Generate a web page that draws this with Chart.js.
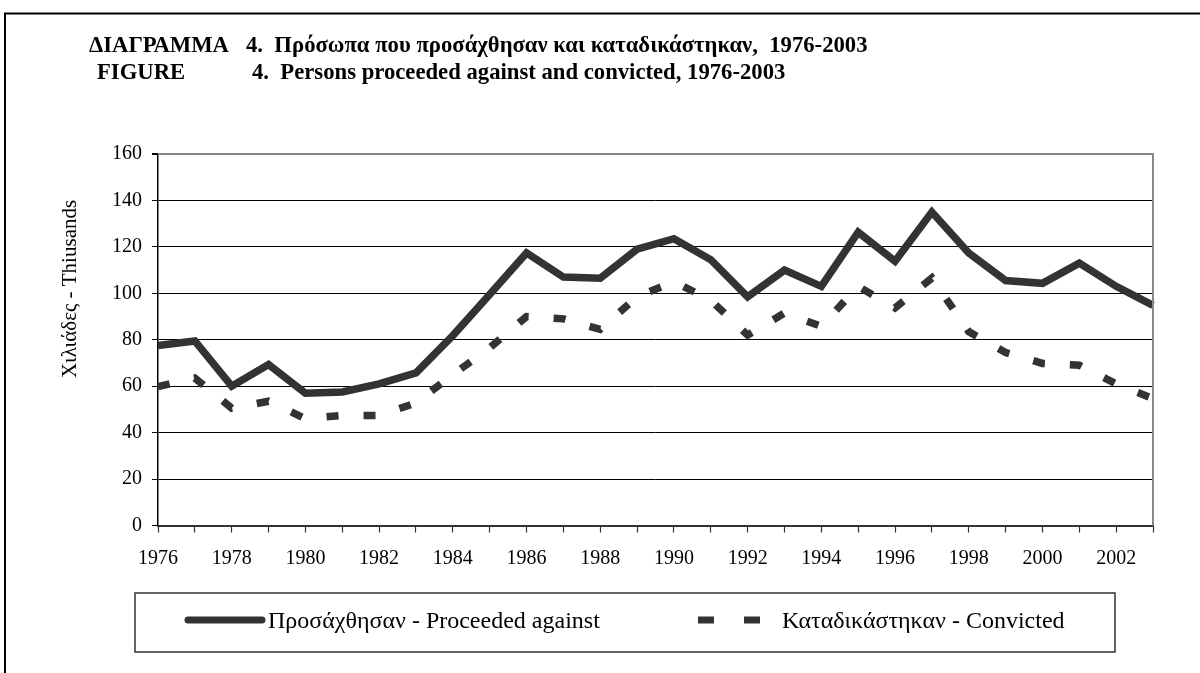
<!DOCTYPE html>
<html>
<head>
<meta charset="utf-8">
<script src="https://cdn.jsdelivr.net/npm/chart.js@4"></script>
<style>
  html, body { margin: 0; padding: 0; background: #fff; }
  canvas { display: block; }
</style>
</head>
<body>
<canvas id="c" width="1200" height="673"></canvas>
<script>
// ---- Data ----
const years = ["1976","1977","1978","1979","1980","1981","1982","1983","1984","1985",
               "1986","1987","1988","1989","1990","1991","1992","1993","1994","1995",
               "1996","1997","1998","1999","2000","2001","2002","2003"];
const proceeded = [77.5, 79.5, 60, 69.3, 57, 57.5, 61, 65.7, 81.8, 99.5,
                   117.4, 107, 106.5, 119, 123.5, 114.5, 98.5, 110, 103, 126.3,
                   113.8, 135, 117.4, 105.5, 104.3, 113, 103, 94.8];
const convicted = [59.8, 63.5, 50.5, 53.5, 46, 47.4, 47.4, 52.8, 65, 76.5,
                   90, 89, 84.5, 98.5, 105, 97, 82, 91.5, 85.8, 103,
                   93.7, 106.6, 83.5, 74.5, 69.8, 69, 61, 54.6];
const seriesLabels = ["Προσάχθησαν - Proceeded against", "Καταδικάστηκαν - Convicted"];
const titleGr = ["ΔΙΑΓΡΑΜΜΑ", "4.  Πρόσωπα που προσάχθησαν και καταδικάστηκαν,  1976-2003"];
const titleEn = ["FIGURE", "4.  Persons proceeded against and convicted, 1976-2003"];
const yTitle = "Χιλιάδες - Thiusands";

const SERIF = '"Liberation Serif", "DejaVu Serif", serif';
const INK = '#333333';

const decorPlugin = {
  id: 'decor',
  beforeDraw(chart) {
    const ctx = chart.ctx;
    ctx.save();
    ctx.fillStyle = '#fff';
    ctx.fillRect(0, 0, chart.width, chart.height);
    ctx.restore();
  },
  afterDraw(chart) {
    const ctx = chart.ctx;
    const a = chart.chartArea;
    ctx.save();
    // plot area border (top/right gray)
    ctx.strokeStyle = '#888';
    ctx.lineWidth = 2;
    ctx.beginPath();
    ctx.moveTo(a.left, a.top);
    ctx.lineTo(a.right, a.top);
    ctx.lineTo(a.right, a.bottom);
    ctx.stroke();

    // outer frame
    ctx.strokeStyle = '#000';
    ctx.lineWidth = 2;
    ctx.beginPath();
    ctx.moveTo(5, chart.height);
    ctx.lineTo(5, 13.5);
    ctx.lineTo(chart.width, 13.5);
    ctx.stroke();

    // titles
    ctx.fillStyle = '#000';
    ctx.font = 'bold 22.7px ' + SERIF;
    ctx.textBaseline = 'alphabetic';
    ctx.textAlign = 'left';
    ctx.fillText(titleGr[0], 89, 52);
    ctx.fillText(titleGr[1], 246, 52);
    ctx.fillText(titleEn[0], 97, 79);
    ctx.fillText(titleEn[1], 252, 79);

    // y axis title
    ctx.save();
    ctx.translate(70, 289);
    ctx.rotate(-Math.PI / 2);
    ctx.font = '21px ' + SERIF;
    ctx.textAlign = 'center';
    ctx.textBaseline = 'middle';
    ctx.fillText(yTitle, 0, 0);
    ctx.restore();

    // legend
    ctx.strokeStyle = '#333';
    ctx.lineWidth = 1.5;
    ctx.strokeRect(135, 593, 980, 59);
    ctx.strokeStyle = INK;
    ctx.lineWidth = 7;
    ctx.lineCap = 'round';
    ctx.beginPath();
    ctx.moveTo(188, 620);
    ctx.lineTo(262, 620);
    ctx.stroke();
    ctx.fillStyle = INK;
    ctx.fillRect(698, 616.5, 16, 7);
    ctx.fillRect(744, 616.5, 16, 7);
    ctx.fillStyle = '#000';
    ctx.font = '24px ' + SERIF;
    ctx.textAlign = 'left';
    ctx.textBaseline = 'middle';
    ctx.fillText(chart.data.datasets[0].label, 268, 622);
    ctx.fillText(chart.data.datasets[1].label, 782, 622);
    ctx.restore();
  }
};

new Chart(document.getElementById('c'), {
  type: 'line',
  data: {
    labels: years,
    datasets: [
      {
        label: seriesLabels[0],
        data: proceeded,
        borderColor: INK,
        borderWidth: 7.5,
        pointRadius: 0,
        tension: 0,
        borderJoinStyle: 'miter',
        borderCapStyle: 'butt',
        fill: false
      },
      {
        label: seriesLabels[1],
        data: convicted,
        borderColor: INK,
        borderWidth: 7.5,
        borderDash: [12, 25],
        pointRadius: 0,
        tension: 0,
        borderJoinStyle: 'miter',
        borderCapStyle: 'butt',
        fill: false
      }
    ]
  },
  options: {
    responsive: false,
    animation: false,
    devicePixelRatio: 1,
    layout: { padding: { top: 154, right: 47, left: 0, bottom: 0 } },
    plugins: {
      legend: { display: false },
      title: { display: false },
      tooltip: { enabled: false }
    },
    scales: {
      x: {
        type: 'category',
        offset: false,
        afterFit(scale) { scale.height = 673 - 525.5; },
        grid: {
          drawOnChartArea: false,
          drawTicks: true,
          tickLength: 7,
          tickColor: '#333',
          tickWidth: 1.2
        },
        border: { color: '#333', width: 2 },
        ticks: {
          autoSkip: false,
          maxRotation: 0,
          minRotation: 0,
          padding: 14,
          color: '#000',
          font: { family: SERIF, size: 20 },
          callback(value, index) { return index % 2 === 0 ? this.getLabelForValue(value) : ''; }
        }
      },
      y: {
        min: 0,
        max: 160,
        afterFit(scale) { scale.width = 158; },
        grid: {
          color(ctx) { return ctx.tick && ctx.tick.value === 160 ? '#888' : '#000'; },
          lineWidth(ctx) { return ctx.tick && ctx.tick.value === 160 ? 2 : 1; },
          tickLength: 6,
          tickColor: '#000'
        },
        border: { color: '#000', width: 1.5 },
        ticks: {
          stepSize: 20,
          padding: 10,
          color: '#000',
          font: { family: SERIF, size: 20 }
        }
      }
    }
  },
  plugins: [decorPlugin]
});
</script>
</body>
</html>
